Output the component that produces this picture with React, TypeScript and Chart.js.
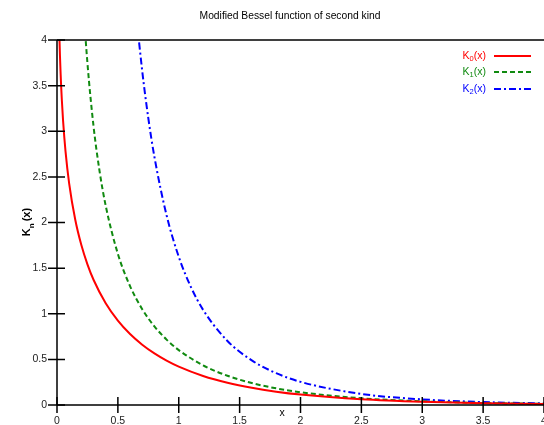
import React, { useEffect, useRef } from "react";
import { Chart, registerables } from "chart.js";

Chart.register(...registerables);

// Tabulated values
const xK0 = [0.005, 0.01, 0.02, 0.03, 0.04, 0.05, 0.07, 0.1, 0.15, 0.2, 0.25, 0.3, 0.4, 0.5, 0.6, 0.7, 0.8, 0.9, 1.0, 1.2, 1.4, 1.6, 1.8, 2.0, 2.5, 3.0, 3.5, 4.0];
const yK0 = [5.414, 4.7212, 4.0285, 3.6235, 3.3365, 3.1142, 2.7798, 2.4271, 2.03, 1.7527, 1.5415, 1.3725, 1.1145, 0.9244, 0.7775, 0.6605, 0.5653, 0.4867, 0.421, 0.3185, 0.2437, 0.188, 0.1459, 0.1139, 0.0623, 0.0347, 0.0196, 0.0112];

const xK1 = [0.2, 0.22, 0.25, 0.3, 0.35, 0.4, 0.5, 0.6, 0.7, 0.8, 0.9, 1.0, 1.2, 1.4, 1.6, 1.8, 2.0, 2.5, 3.0, 3.5, 4.0];
const yK1 = [4.776, 4.31, 3.747, 3.056, 2.5591, 2.1844, 1.6564, 1.3028, 1.0503, 0.8618, 0.7165, 0.6019, 0.4346, 0.3208, 0.2406, 0.1826, 0.1399, 0.0739, 0.0402, 0.0222, 0.0125];

const xK2 = [0.6, 0.65, 0.7, 0.75, 0.8, 0.9, 1.0, 1.1, 1.2, 1.4, 1.6, 1.8, 2.0, 2.5, 3.0, 3.5, 4.0];
const yK2 = [5.12, 4.307, 3.661, 3.143, 2.72, 2.079, 1.6248, 1.2927, 1.0428, 0.702, 0.4888, 0.3488, 0.2538, 0.1215, 0.0615, 0.0323, 0.0174];

const seriesNames = ["0", "1", "2"];
const titleText = "Modified Bessel function of second kind";
const xLabel = "x";

const RED = "#ff0000";
const GREEN = "#108a10";
const BLUE = "#0000ff";
const FONT = "Liberation Sans, Arial, sans-serif";

const toPts = (xs: number[], ys: number[]) => xs.map((x, i) => ({ x, y: ys[i] }));
const fmt = (v: any) => String(Math.round(Number(v) * 100) / 100);

const decorPlugin = {
  id: "decor",
  afterDraw(chart: any) {
    const ctx = chart.ctx as CanvasRenderingContext2D;
    const { left, right, top, bottom } = chart.chartArea;
    const xs = chart.scales.x;
    const ys = chart.scales.y;
    ctx.save();
    ctx.strokeStyle = "#000";
    ctx.lineWidth = 1.5;
    ctx.beginPath();
    ctx.moveTo(left, top);
    ctx.lineTo(left, bottom);
    ctx.moveTo(left, bottom);
    ctx.lineTo(right, bottom);
    ctx.moveTo(left, top);
    ctx.lineTo(right, top);
    ctx.stroke();
    // ticks crossing the axes
    ctx.beginPath();
    xs.ticks.forEach((t: any) => {
      const px = xs.getPixelForValue(t.value);
      ctx.moveTo(px, bottom - 8);
      ctx.lineTo(px, bottom + 8);
    });
    ys.ticks.forEach((t: any) => {
      const py = ys.getPixelForValue(t.value);
      ctx.moveTo(left - 9, py);
      ctx.lineTo(left + 8, py);
    });
    ctx.stroke();

    // title
    ctx.fillStyle = "#000";
    ctx.font = `10.3px ${FONT}`;
    ctx.textAlign = "center";
    ctx.textBaseline = "middle";
    ctx.fillText(titleText, 290, 16);

    // x label
    ctx.font = `10.5px ${FONT}`;
    ctx.fillText(xLabel, 282, 413);

    // y label rotated: K_n(x)
    ctx.save();
    ctx.translate(27, 222);
    ctx.rotate(-Math.PI / 2);
    ctx.font = `bold 11px ${FONT}`;
    const wK = ctx.measureText("K").width;
    ctx.font = `bold 8px ${FONT}`;
    const wn = ctx.measureText("n").width;
    ctx.font = `bold 11px ${FONT}`;
    const wx = ctx.measureText("(x)").width;
    const tot = wK + wn + 2 + wx;
    let cx = -tot / 2;
    ctx.textAlign = "left";
    ctx.fillText("K", cx, 0);
    cx += wK;
    ctx.font = `bold 8px ${FONT}`;
    ctx.fillText("n", cx, 5);
    cx += wn + 2;
    ctx.font = `bold 11px ${FONT}`;
    ctx.fillText("(x)", cx, 0);
    ctx.restore();

    // legend
    const colors = [RED, GREEN, BLUE];
    const dashes = [[], [5, 3], [7, 3, 2, 3]];
    const rows = [56, 72, 89];
    seriesNames.forEach((n, i) => {
      const y = rows[i];
      ctx.fillStyle = colors[i];
      ctx.textAlign = "left";
      ctx.textBaseline = "middle";
      ctx.font = `10.5px ${FONT}`;
      const w1 = ctx.measureText("K").width;
      ctx.font = `7.5px ${FONT}`;
      const w2 = ctx.measureText(n).width;
      ctx.font = `10.5px ${FONT}`;
      const w3 = ctx.measureText("(x)").width;
      let sx = 486 - (w1 + w2 + w3);
      ctx.fillText("K", sx, y);
      sx += w1;
      ctx.font = `7.5px ${FONT}`;
      ctx.fillText(n, sx, y + 3);
      sx += w2;
      ctx.font = `10.5px ${FONT}`;
      ctx.fillText("(x)", sx, y);
      ctx.strokeStyle = colors[i];
      ctx.lineWidth = 2;
      ctx.setLineDash(dashes[i]);
      ctx.beginPath();
      ctx.moveTo(494, y);
      ctx.lineTo(531, y);
      ctx.stroke();
      ctx.setLineDash([]);
    });
    ctx.restore();
  },
};

export default function App() {
  const ref = useRef<HTMLCanvasElement | null>(null);
  useEffect(() => {
    if (!ref.current) return;
    const chart = new Chart(ref.current, {
      type: "line",
      data: {
        datasets: [
          { label: "K0(x)", data: toPts(xK0, yK0), borderColor: RED, borderWidth: 2, pointRadius: 0, cubicInterpolationMode: "monotone", fill: false },
          { label: "K1(x)", data: toPts(xK1, yK1), borderColor: GREEN, borderWidth: 2, borderDash: [5, 3], pointRadius: 0, cubicInterpolationMode: "monotone", fill: false },
          { label: "K2(x)", data: toPts(xK2, yK2), borderColor: BLUE, borderWidth: 2, borderDash: [7, 3, 2, 3], pointRadius: 0, cubicInterpolationMode: "monotone", fill: false },
        ],
      },
      options: {
        animation: false,
        responsive: false,
        maintainAspectRatio: false,
        layout: { padding: { top: 40, right: 0, left: 0, bottom: 0 } },
        plugins: { legend: { display: false }, title: { display: false }, tooltip: { enabled: false } },
        scales: {
          x: {
            type: "linear",
            min: 0,
            max: 4,
            grid: { display: false, drawTicks: false, tickLength: 0 },
            border: { display: false },
            ticks: { stepSize: 0.5, padding: 10, color: "#222", font: { family: FONT, size: 10.5 }, maxRotation: 0, autoSkip: false, callback: fmt },
            afterFit: (s: any) => { s.height = 20; s.paddingLeft = 0; s.paddingRight = 0; },
          },
          y: {
            type: "linear",
            min: 0,
            max: 4,
            grid: { display: false, drawTicks: false, tickLength: 0 },
            border: { display: false },
            ticks: { stepSize: 0.5, padding: 10, color: "#222", font: { family: FONT, size: 10.5 }, callback: fmt },
            afterFit: (s: any) => { s.width = 57; s.paddingTop = 0; s.paddingBottom = 0; },
          },
        },
      },
      plugins: [decorPlugin],
    } as any);
    return () => chart.destroy();
  }, []);
  return (
    <div style={{ position: "absolute", left: 0, top: 0, width: 544, height: 425 }}>
      <canvas ref={ref} width={544} height={425} style={{ width: 544, height: 425 }} />
    </div>
  );
}
